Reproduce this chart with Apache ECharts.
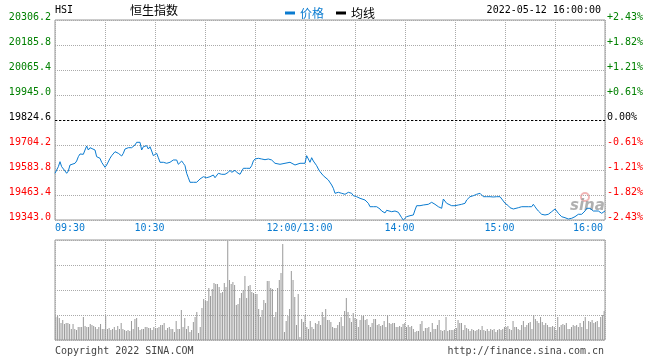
<!DOCTYPE html>
<html><head><meta charset="utf-8">
<script src="https://cdn.jsdelivr.net/npm/echarts@6/dist/echarts.min.js"></script>
<style>html,body{margin:0;padding:0;background:#fff}#c{width:660px;height:360px}</style>
</head><body><div id="c"></div>
<script>
// ---- data ----
const prevClose = 19824.6;
const priceLabels = ['19343.0','19463.4','19583.8','19704.2','19824.6','19945.0','20065.4','20185.8','20306.2'];
const pctLabels = ['-2.43%','-1.82%','-1.21%','-0.61%','0.00%','+0.61%','+1.21%','+1.82%','+2.43%'];
const timeTickMin = [0, 60, 150, 210, 270, 330];
const timeTickText = ['09:30', '10:30', '12:00/13:00', '14:00', '15:00', '16:00'];
// trading minutes since 09:30 (lunch break removed)
const tradeMinute = [0,1,2,3,4,6,7,8,9,10,12,13,14,15,17,18,19,20,21,22,24,25,26,27,28,29,30,31,32,33,34,36,37,38,40,41,42,43,44,46,47,48,49,50,51,52,53,54,55,56,57,58,59,60,61,62,63,65,
67,68,69,71,72,73,74,75,76,77,78,79,80,81,83,85,86,87,88,89,90,91,92,93,94,95,96,97,98,99,100,102,103,104,105,106,107,108,109,110,111,112,113,115,117,118,119,120,121,122,123,124,125,126,127,128,130,131,132,
135,136,138,139,141,142,144,145,147,148,150,151,152,153,154,155,156,157,158,159,160,161,162,164,165,166,167,168,169,170,171,172,173,174,175,176,178,179,180,181,182,183,184,186,187,188,189,190,191,192,193,194,195,196,197,198,
199,200,202,203,204,206,207,208,209,210,211,212,213,214,215,216,217,218,219,220,221,222,224,225,226,227,228,229,230,232,233,234,235,236,238,239,240,241,242,244,245,246,247,248,249,250,251,252,253,254,255,256,257,258,259,260,261,263,264,
265,267,268,269,270,272,273,274,275,276,278,279,280,281,282,284,285,286,287,288,289,290,291,292,294,295,296,297,298,299,300,301,302,303,304,305,306,307,308,310,311,312,313,314,315,316,318,319,320,321,322,323,324,326,327,328,329,330];
const price = [19567.9,19572.7,19599.7,19623.8,19599.7,19579.0,19567.9,19579.0,19607.9,19616.1,19616.1,19627.1,19647.9,19660.9,19659.4,19680.1,19699.4,19680.1,19691.2,19696.0,19680.1,19647.9,19643.0,19640.1,19620.9,19620.9,19596.8,19607.9,19611.3,19640.1,19652.7,19671.9,19675.3,19664.2,19651.2,19664.2,19684.9,19675.3,19691.2,19691.2,19696.0,19704.2,19717.2,19712.4,19717.2,19680.1,19696.0,19691.2,19700.8,19684.9,19696.0,19675.3,19652.7,19647.9,19664.2,19643.0,19620.9,19620.9,
19616.1,19611.3,19620.9,19632.0,19640.1,19632.0,19611.3,19616.1,19627.1,19616.1,19604.5,19567.9,19546.7,19524.6,19524.6,19524.6,19516.4,19540.5,19540.5,19551.5,19559.7,19546.7,19543.8,19551.5,19546.7,19559.7,19546.7,19551.5,19567.9,19575.6,19563.1,19563.1,19572.7,19572.7,19582.4,19572.7,19579.0,19582.4,19572.7,19579.0,19563.1,19572.7,19592.0,19592.0,19592.0,19604.5,19627.1,19636.8,19632.0,19640.1,19632.0,19636.8,19632.0,19633.4,19640.1,19636.8,19632.0,19630.0,19616.1,
19611.3,19607.9,19616.1,19620.9,19620.9,19616.1,19607.9,19616.1,19616.1,19611.3,19616.1,19652.7,19636.8,19620.9,19643.0,19627.1,19623.8,19604.5,19588.6,19575.6,19566.0,19556.3,19546.7,19535.6,19527.5,19511.6,19495.7,19471.6,19463.4,19476.4,19479.3,19471.6,19466.8,19466.8,19469.7,19476.4,19471.6,19460.0,19450.4,19455.2,19450.4,19447.5,19439.3,19439.3,19439.3,19423.4,19407.0,19399.3,19407.0,19415.2,19407.0,19402.2,19396.0,19386.3,19380.1,19377.0,
19389.7,19383.0,19383.0,19391.2,19386.3,19380.1,19367.1,19354.1,19343.0,19351.2,19358.9,19363.7,19363.7,19370.5,19367.1,19391.2,19411.9,19407.0,19411.9,19411.9,19415.2,19418.6,19418.6,19423.4,19428.2,19423.4,19418.6,19415.2,19407.0,19399.3,19444.1,19434.5,19423.4,19415.2,19411.9,19411.9,19411.9,19415.2,19415.2,19418.6,19415.2,19423.4,19439.3,19447.5,19455.2,19463.4,19460.0,19466.8,19466.8,19476.4,19471.6,19463.4,19455.2,19447.5,19455.2,19450.4,19455.2,19453.8,19455.2,
19455.2,19455.2,19450.4,19434.5,19423.4,19411.9,19402.2,19396.0,19396.0,19396.0,19402.2,19407.0,19407.0,19405.6,19407.0,19407.0,19407.0,19407.0,19418.6,19407.0,19396.0,19386.3,19380.1,19370.5,19367.1,19363.7,19370.5,19380.1,19383.0,19391.2,19396.0,19386.3,19375.3,19367.1,19358.9,19367.1,19354.1,19358.9,19347.8,19351.2,19351.2,19358.9,19358.9,19370.5,19370.5,19370.5,19386.3,19399.3,19396.0,19399.3,19391.2,19386.3,19391.2,19386.3,19383.0,19375.3,19383.0,19386.3];
// volume (relative units, 100 = panel top)
const volumeAM = [23,24,22,17,20,16,17,17,16,11,16,11,10,13,13,13,23,14,13,13,16,15,14,13,11,13,16,11,11,24,11,12,10,11,13,10,14,11,17,11,10,9,10,9,19,11,21,22,13,10,11,11,13,13,12,12,10,13,12,12,13,15,15,17,10,12,13,11,11,8,19,11,11,30,13,22,11,14,8,10,18,23,28,7,13,32,41,39,39,52,44,51,57,56,56,53,47,48,57,53,99,60,56,58,55,35,36,42,47,50,64,42,54,55,48,47,46,46,31,23,30,40,37,59,59,52,51,23,28,52,60,67,96,8,19,24,31,69,60,43,15,46];
const volumePM = [3,21,18,25,13,11,19,13,11,17,16,19,15,
28,23,31,20,20,18,13,12,12,15,18,23,14,29,42,28,22,18,27,22,21,13,20,24,24,20,21,15,13,17,21,21,15,16,14,15,19,13,25,17,16,17,17,13,13,14,13,16,17,13,15,13,14,11,8,9,9,16,19,9,12,12,13,8,17,11,11,15,20,10,9,10,23,9,10,10,10,11,12,20,17,17,10,15,12,11,9,11,10,9,10,11,10,14,10,9,11,9,11,10,11,8,10,11,10,11,13,13,14,11,10,19,13,13,11,10,15,19,13,15,17,18,11,25,21,19,17,23,18,15,17,15,13,13,14,13,10,23,13,15,16,15,17,11,11,13,15,14,15,13,17,13,19,23,11,19,18,20,17,18,19,13,23,25,29];

// ---- build ----
const BLUE = '#0a7bd0';
const MONO = '"DejaVu Sans Mono", "Liberation Mono", monospace';
const CJK = '"Noto Sans CJK SC", sans-serif';
const yMin = 19343.0, yMax = 20306.2, yStep = 120.4;
const volume = volumeAM.concat(volumePM);
const lineData = tradeMinute.map((m, i) => [m, price[i]]);
const labelIdx = v => Math.round((v - yMin) / yStep);
const labelColor = (v, i) => { const k = labelIdx(+v); return k < 4 ? '#ff0000' : (k === 4 ? '#000000' : '#008000'); };
const dotted = { color: '#aaaaaa', type: [1, 1], width: 1 };

const chart = echarts.init(document.getElementById('c'), null, { renderer: 'canvas' });
chart.setOption({
  animation: false,
  backgroundColor: '#ffffff',
  title: { text: '恒生指数', left: 125, top: -1, textStyle: { fontSize: 12, fontWeight: 'normal', fontFamily: CJK, color: '#000' } },
  legend: {
    left: 280, top: 2, icon: 'rect', itemWidth: 10, itemHeight: 3, itemGap: 12,
    textStyle: { fontSize: 12, fontFamily: CJK },
    data: [{ name: '价格', textStyle: { color: BLUE } }, { name: '均线', textStyle: { color: '#000' } }]
  },
  grid: [
    { left: 55, right: 55, top: 20, height: 200, show: true, borderColor: '#999', borderWidth: 1, backgroundColor: 'transparent' },
    { left: 55, right: 55, top: 240, height: 100, show: true, borderColor: '#999', borderWidth: 1, backgroundColor: 'transparent' }
  ],
  xAxis: [
    { gridIndex: 0, type: 'value', min: 0, max: 330, interval: 30,
      axisLine: { show: false }, axisTick: { show: false }, splitLine: { show: true, lineStyle: dotted },
      axisLabel: {
        margin: 3, alignMinLabel: 'left', alignMaxLabel: 'right', showMinLabel: true, showMaxLabel: true,
        fontFamily: MONO, fontSize: 10, color: BLUE,
        formatter: v => { const i = timeTickMin.indexOf(v); if (i < 0) return ''; const s = i === 0 ? 'f' : (i === timeTickMin.length - 1 ? 'l' : 'm'); return '{' + s + '|' + timeTickText[i] + '}'; },
        rich: {
          f: { fontFamily: MONO, fontSize: 10, color: BLUE },
          m: { fontFamily: MONO, fontSize: 10, color: BLUE, padding: [0, 11, 0, 0] },
          l: { fontFamily: MONO, fontSize: 10, color: BLUE, padding: [0, 2, 0, 0] }
        }
      } },
    { gridIndex: 1, type: 'value', min: 0, max: 330, interval: 30,
      axisLine: { show: false }, axisTick: { show: false }, axisLabel: { show: false }, splitLine: { show: true, lineStyle: dotted } },
    { gridIndex: 1, type: 'category', data: volume.map((v, i) => i), show: false, boundaryGap: true }
  ],
  yAxis: [
    { gridIndex: 0, type: 'value', position: 'left', min: yMin, max: yMax, interval: yStep,
      axisLine: { show: false }, axisTick: { show: false }, splitLine: { show: true, lineStyle: dotted },
      axisLabel: { margin: 4, fontFamily: MONO, fontSize: 10, verticalAlign: 'bottom', lineHeight: 6, color: labelColor,
        formatter: v => priceLabels[labelIdx(v)] || '' } },
    { gridIndex: 0, type: 'value', position: 'right', min: yMin, max: yMax, interval: yStep,
      axisLine: { show: false }, axisTick: { show: false }, splitLine: { show: false },
      axisLabel: { margin: 2, fontFamily: MONO, fontSize: 10, verticalAlign: 'bottom', lineHeight: 6, color: labelColor,
        formatter: v => pctLabels[labelIdx(v)] || '' } },
    { gridIndex: 1, type: 'value', min: 0, max: 100, interval: 25,
      axisLine: { show: false }, axisTick: { show: false }, axisLabel: { show: false }, splitLine: { show: true, lineStyle: dotted } }
  ],
  series: [
    { name: '价格', type: 'line', xAxisIndex: 0, yAxisIndex: 0, data: lineData, showSymbol: false, symbol: 'none',
      lineStyle: { color: BLUE, width: 1 }, itemStyle: { color: BLUE },
      markLine: { silent: true, symbol: ['none', 'none'], label: { show: false },
        lineStyle: { color: '#000', type: [2, 2], width: 1 }, data: [{ yAxis: prevClose }] } },
    { name: '均线', type: 'line', xAxisIndex: 0, yAxisIndex: 0, data: [], showSymbol: false,
      lineStyle: { color: '#000', width: 1 }, itemStyle: { color: '#000' } },
    { name: '成交量', type: 'bar', xAxisIndex: 2, yAxisIndex: 2, data: volume, barWidth: 1,
      itemStyle: { color: '#999' } }
  ],
  graphic: [
    { type: 'text', x: 55, y: 5, style: { text: 'HSI', font: '10px ' + MONO, fill: '#000' } },
    { type: 'text', x: 601, y: 5, style: { text: '2022-05-12 16:00:00', font: '10px ' + MONO, fill: '#000', textAlign: 'right' } },
    { type: 'text', x: 55, y: 346, style: { text: 'Copyright 2022 SINA.COM', font: '10px ' + MONO, fill: '#444' } },
    { type: 'text', x: 604, y: 346, style: { text: 'http://finance.sina.com.cn', font: '10px ' + MONO, fill: '#444', textAlign: 'right' } },
    { type: 'circle', shape: { cx: 585, cy: 197, r: 4 }, style: { fill: 'none', stroke: 'rgba(230,120,120,0.55)', lineWidth: 2 }, silent: true },
    { type: 'text', x: 570, y: 199, style: { text: 'sina', font: 'italic bold 15px "DejaVu Sans", sans-serif', fill: 'rgba(150,150,150,0.75)' }, silent: true }
  ]
});
</script></body></html>
